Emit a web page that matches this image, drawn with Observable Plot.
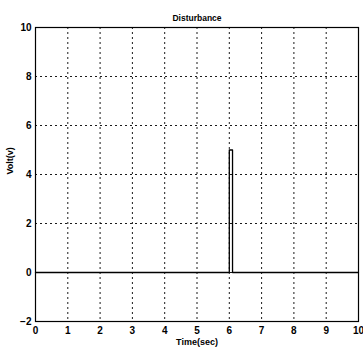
<!DOCTYPE html>
<html><head><meta charset="utf-8">
<script src="https://cdn.jsdelivr.net/npm/d3@7"></script>
<script src="https://cdn.jsdelivr.net/npm/@observablehq/plot@0.6"></script>
<style>
body{margin:0;background:#fff;}
svg{font-family:"Liberation Sans",Arial,sans-serif;}
</style>
</head><body>
<div id="chart"></div>
<script>
const time = [0, 6, 6, 6.1, 6.1, 10];
const volt = [0, 0, 5, 5, 0, 0];
const xTicks = [0,1,2,3,4,5,6,7,8,9,10];
const yTicks = [-2,0,2,4,6,8,10];
const title = "Disturbance";
const xLabel = "Time(sec)";
const yLabel = "Volt(v)";

const data = time.map((t,i)=>({t, v: volt[i]}));
const chart = Plot.plot({
  width: 363, height: 355,
  marginLeft: 35, marginRight: 5, marginTop: 27, marginBottom: 34,
  style: {fontSize: "10px", color: "#000", background: "#fff"},
  x: {domain: [0,10], label: null},
  y: {domain: [-2,10], label: null},
  marks: [
    Plot.ruleX(xTicks.slice(1,-1), {stroke: "#000", strokeWidth: 0.9, strokeDasharray: "2,3"}),
    Plot.ruleY(yTicks.slice(1,-1), {stroke: "#000", strokeWidth: 0.9, strokeDasharray: "2,3"}),
    Plot.axisX({ticks: xTicks, tickSize: 0, tickPadding: 5, anchor: "bottom", fontSize: 10, fontWeight: 600}),
    Plot.axisY({ticks: yTicks, tickSize: 0, tickPadding: 4, anchor: "left", fontSize: 10, fontWeight: 600}),
    Plot.frame({stroke: "#000", strokeWidth: 1.2}),
    Plot.line(data, {x: "t", y: "v", stroke: "#000", strokeWidth: 1.3}),
    Plot.text([title], {frameAnchor: "top", dy: -13, text: d=>d, fontSize: 8.5, fontWeight: 600}),
    Plot.text([xLabel], {frameAnchor: "bottom", dy: 23, text: d=>d, fontSize: 9, fontWeight: 600}),
    Plot.text([yLabel], {frameAnchor: "left", dx: -25, rotate: -90, text: d=>d, fontSize: 9, fontWeight: 600})
  ]
});
document.getElementById("chart").appendChild(chart);
</script>
</body></html>
